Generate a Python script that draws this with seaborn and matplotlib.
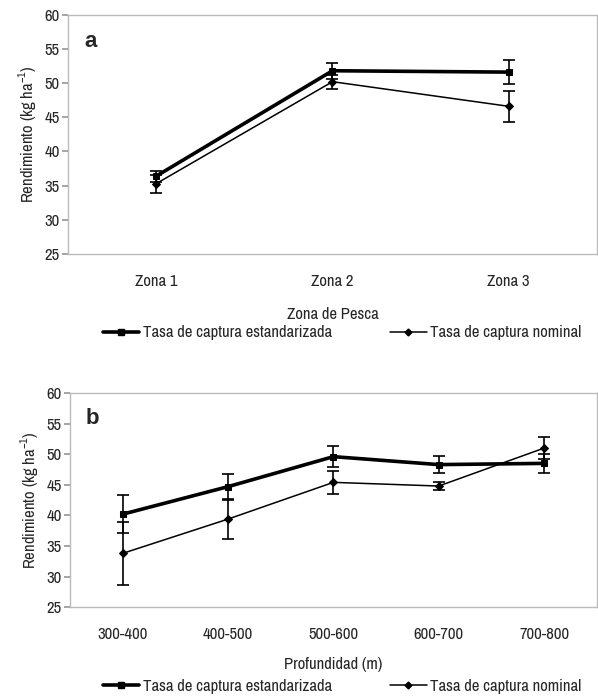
import numpy as np
import pandas as pd
import seaborn as sns
import matplotlib.pyplot as plt
from matplotlib import font_manager
from matplotlib.lines import Line2D

# panel a: fishing zone
zonas = ["Zona 1", "Zona 2", "Zona 3"]
est_a = [36.4, 51.8, 51.6]
est_a_err = [0.8, 1.2, 1.8]
nom_a = [35.3, 50.2, 46.6]
nom_a_err = [1.3, 1.0, 2.3]

# panel b: depth
prof = ["300-400", "400-500", "500-600", "600-700", "700-800"]
est_b = [40.2, 44.7, 49.6, 48.3, 48.5]
est_b_err = [3.1, 2.1, 1.7, 1.4, 1.5]
nom_b = [33.8, 39.4, 45.4, 44.8, 51.0]
nom_b_err = [5.2, 3.3, 1.9, 0.6, 1.8]

lab_est = "Tasa de captura estandarizada"
lab_nom = "Tasa de captura nominal"

sns.set_theme(style="white")
available = {f.name for f in font_manager.fontManager.ttflist}
narrow = [f for f in ['Liberation Sans Narrow', 'Archivo Narrow', 'Roboto Condensed',
                      'Sofia Sans Condensed'] if f in available]
fam = narrow[:1] + ['Liberation Sans', 'DejaVu Sans']
plt.rcParams['font.family'] = fam
plt.rcParams['mathtext.fontset'] = 'custom'
plt.rcParams['mathtext.rm'] = fam[0]

fig = plt.figure(figsize=(5.98, 6.98), dpi=100)
ax_a = fig.add_axes([0.114, 0.636, 0.884, 0.343])
ax_b = fig.add_axes([0.117, 0.130, 0.881, 0.307])


def draw_panel(ax, cats, est, est_err, nom, nom_err, xlabel, letter, leg_y, lpad):
    pos = np.arange(len(cats))
    df = pd.DataFrame({"x": np.concatenate([pos, pos]),
                       "y": est + nom,
                       "serie": [lab_est] * len(cats) + [lab_nom] * len(cats)})
    sns.lineplot(data=df[df.serie == lab_est], x="x", y="y", ax=ax, color="black",
                 lw=2.6, marker="s", markersize=5, markeredgecolor="black", legend=False)
    sns.lineplot(data=df[df.serie == lab_nom], x="x", y="y", ax=ax, color="black",
                 lw=1.1, marker="D", markersize=4, markeredgecolor="black", legend=False)
    ax.errorbar(pos, est, yerr=est_err, fmt="none", ecolor="black", elinewidth=1.2,
                capsize=4, capthick=1.2)
    ax.errorbar(pos, nom, yerr=nom_err, fmt="none", ecolor="black", elinewidth=1.2,
                capsize=4, capthick=1.2)

    ax.set_xlim(-0.5, len(cats) - 0.5)
    ax.set_ylim(25, 60)
    ax.set_yticks(range(25, 61, 5))
    ax.set_xticks(pos)
    ax.set_xticklabels(cats)
    ax.set_xticks(np.arange(-0.5, len(cats), 1.0), minor=True)
    ax.tick_params(axis="x", which="major", length=0, pad=14, labelsize=12)
    ax.tick_params(axis="x", which="minor", length=4, color="#999999", direction="out")
    ax.tick_params(axis="y", length=4, color="#999999", direction="out", left=True,
                   labelsize=12, pad=2)
    for sp in ax.spines.values():
        sp.set_color("#bbbbbb")
        sp.set_linewidth(1.0)
    ax.set_xlabel(xlabel, fontsize=12, labelpad=lpad)
    ax.set_ylabel("Rendimiento (kg ha$^{-1}$)", fontsize=12, labelpad=4)
    ax.text(0.03, 0.93, letter, transform=ax.transAxes, fontsize=16,
            fontweight="bold", ha="left", va="top",
            family=['Liberation Sans', 'DejaVu Sans'])

    handles = [Line2D([], [], color="black", lw=2.6, marker="s", markersize=4),
               Line2D([], [], color="black", lw=1.1, marker="D", markersize=3.5)]
    fig.legend(handles, [lab_est, lab_nom], loc="center", bbox_to_anchor=(0.572, leg_y),
               ncol=2, frameon=False, fontsize=12, columnspacing=3.5, handlelength=2.2,
               handletextpad=0.2)


draw_panel(ax_a, zonas, est_a, est_a_err, nom_a, nom_a_err, "Zona de Pesca", "a", 0.523, 13)
draw_panel(ax_b, prof, est_b, est_b_err, nom_b, nom_b_err, "Profundidad (m)", "b", 0.017, 11)

fig.savefig("out.png", dpi=100)
